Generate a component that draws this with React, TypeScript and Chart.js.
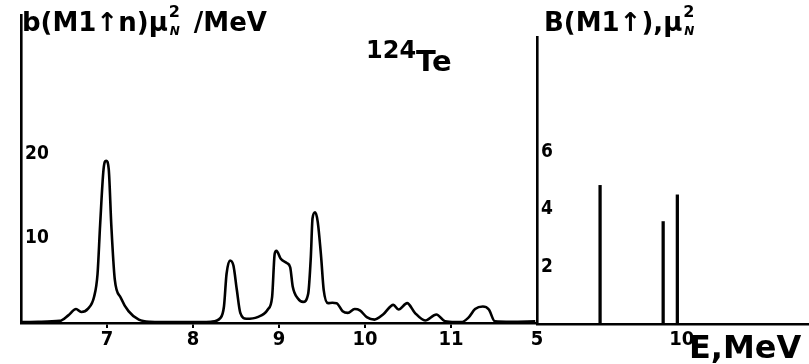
import React, { useEffect, useRef } from "react";
import { Chart, registerables } from "chart.js";

Chart.register(...registerables);

// Left panel: strength distribution b(M1↑n) vs E (MeV)
const leftE = [6.0, 6.2, 6.45, 6.55, 6.64, 6.7, 6.78, 6.85, 6.89, 6.92, 6.96, 6.99, 7.02, 7.05, 7.09, 7.16, 7.25, 7.37, 7.5, 7.8, 8.1, 8.21, 8.32, 8.36, 8.39, 8.43, 8.47, 8.51, 8.55, 8.62, 8.75, 8.87, 8.92, 8.95, 8.97, 9.02, 9.09, 9.13, 9.16, 9.22, 9.28, 9.34, 9.37, 9.39, 9.42, 9.45, 9.49, 9.52, 9.57, 9.62, 9.67, 9.74, 9.8, 9.88, 9.94, 10.02, 10.11, 10.21, 10.33, 10.39, 10.49, 10.58, 10.7, 10.83, 10.93, 11.05, 11.12, 11.2, 11.28, 11.37, 11.44, 11.51, 11.7, 11.98];
const leftB = [0.1, 0.15, 0.25, 0.9, 1.65, 1.3, 1.7, 3.1, 5.8, 11.6, 18.2, 19.2, 18.2, 11.6, 5.2, 3.0, 1.4, 0.4, 0.15, 0.1, 0.1, 0.15, 0.6, 1.95, 5.8, 7.4, 6.8, 3.9, 1.2, 0.5, 0.7, 1.6, 3.1, 8.2, 8.55, 7.6, 7.1, 6.6, 4.3, 2.9, 2.5, 3.5, 7.8, 12.4, 13.1, 12.0, 7.8, 3.9, 2.35, 2.4, 2.35, 1.4, 1.2, 1.65, 1.5, 0.7, 0.4, 1.0, 2.15, 1.6, 2.35, 1.2, 0.3, 1.0, 0.2, 0.1, 0.1, 0.6, 1.65, 1.95, 1.6, 0.2, 0.15, 0.2];
const leftXTicks = [7, 8, 9, 10, 11];
const leftYTicks = [10, 20];

// Right panel: discrete B(M1↑) lines
const rightE = [7.18, 9.36, 9.85];
const rightB = [4.83, 3.57, 4.5];
const rightXTicks = [5, 10];
const rightYTicks = [2, 4, 6];

const W = 809;
const H = 364;
const tickFont = { family: "'Liberation Sans Narrow', 'DejaVu Sans Condensed', 'Liberation Sans', sans-serif", size: 20, weight: "bold" as const };
const yTickFont = { family: "'Liberation Sans Narrow', 'DejaVu Sans Condensed', 'Liberation Sans', sans-serif", size: 19, weight: "bold" as const };
const titleFont = "'DejaVu Sans', 'Liberation Sans', sans-serif";

function StackMu() {
  return (
    <span style={{ display: "inline-block", position: "relative", width: 17, height: "1em", verticalAlign: "top" }}>
      <span style={{ position: "absolute", left: 1, top: -5, fontSize: 16, lineHeight: 1 }}>2</span>
      <span style={{ position: "absolute", left: 2, top: 16, fontSize: 12, lineHeight: 1, fontStyle: "italic" }}>N</span>
    </span>
  );
}

export default function App() {
  const leftRef = useRef<HTMLCanvasElement>(null);
  const rightRef = useRef<HTMLCanvasElement>(null);

  useEffect(() => {
    const left = new Chart(leftRef.current!, {
      type: "line",
      data: {
        datasets: [
          {
            data: leftE.map((x, i) => ({ x, y: leftB[i] })),
            borderColor: "#000",
            borderWidth: 2.6,
            pointRadius: 0,
            cubicInterpolationMode: "monotone",
            fill: false,
          },
        ],
      },
      options: {
        responsive: false,
        animation: false,
        layout: { padding: { top: 10, right: W - 537, left: 0, bottom: 0 } },
        plugins: { legend: { display: false }, tooltip: { enabled: false } },
        scales: {
          x: {
            type: "linear",
            min: 6,
            max: 12,
            afterFit: (s: any) => { s.height = 41; },
            afterBuildTicks: (s: any) => { s.ticks = leftXTicks.map((v) => ({ value: v })); },
            grid: { display: true, drawOnChartArea: false, drawTicks: true, tickLength: 5, color: "#000", lineWidth: 2 },
            border: { display: true, color: "#000", width: 2.6 },
            ticks: { font: tickFont, color: "#000", padding: 0, maxRotation: 0, autoSkip: false, callback: (v: any) => String(v) },
          },
          y: {
            type: "linear",
            min: 0,
            max: 36.4,
            afterFit: (s: any) => { s.width = 21; },
            afterBuildTicks: (s: any) => { s.ticks = leftYTicks.map((v) => ({ value: v })); },
            grid: { display: true, drawOnChartArea: false, drawTicks: false },
            border: { display: true, color: "#000", width: 2.6 },
            ticks: { mirror: true, padding: 4, font: yTickFont, color: "#000", callback: (v: any) => String(v) },
          },
        },
      },
    });

    const right = new Chart(rightRef.current!, {
      type: "bar",
      data: {
        datasets: [
          {
            data: rightE.map((x, i) => ({ x, y: rightB[i] })),
            backgroundColor: "#000",
            borderWidth: 0,
            barThickness: 2.6,
          },
        ],
      },
      options: {
        responsive: false,
        animation: false,
        layout: { padding: { top: 37, right: 0, left: 0, bottom: 0 } },
        plugins: { legend: { display: false }, tooltip: { enabled: false } },
        scales: {
          x: {
            type: "linear",
            min: 5,
            max: 14.4,
            offset: false,
            afterFit: (s: any) => { s.height = 40; },
            afterBuildTicks: (s: any) => { s.ticks = rightXTicks.map((v) => ({ value: v })); },
            grid: { display: true, drawOnChartArea: false, drawTicks: false, offset: false },
            border: { display: true, color: "#000", width: 2.6 },
            ticks: { font: tickFont, color: "#000", padding: 4, maxRotation: 0, autoSkip: false, callback: (v: any) => String(v) },
          },
          y: {
            type: "linear",
            min: 0,
            max: 10,
            afterFit: (s: any) => { s.width = 537; },
            afterBuildTicks: (s: any) => { s.ticks = rightYTicks.map((v) => ({ value: v })); },
            grid: { display: true, drawOnChartArea: false, drawTicks: false },
            border: { display: true, color: "#000", width: 2.6 },
            ticks: { mirror: true, padding: 4, font: yTickFont, color: "#000", callback: (v: any) => String(v) },
          },
        },
      },
    });

    return () => {
      left.destroy();
      right.destroy();
    };
  }, []);

  const abs = { position: "absolute" as const, left: 0, top: 0 };
  return (
    <div style={{ position: "fixed", left: 0, top: 0, width: W, height: H, background: "#fff", overflow: "hidden", color: "#000" }}>
      <canvas ref={leftRef} width={W} height={H} style={{ ...abs, width: W, height: H }} />
      <canvas ref={rightRef} width={W} height={H} style={{ ...abs, width: W, height: H }} />
      <div style={{ position: "absolute", left: 22, top: 9, fontFamily: titleFont, fontWeight: "bold", fontSize: 26, lineHeight: 1, whiteSpace: "nowrap" }}>
        b(M1↑n)μ<StackMu /> /MeV
      </div>
      <div style={{ position: "absolute", left: 366, top: 38, fontFamily: titleFont, fontWeight: "bold", whiteSpace: "nowrap", lineHeight: 1 }}>
        <span style={{ fontSize: 24, verticalAlign: "top" }}>124</span>
        <span style={{ fontSize: 29, position: "relative", top: 9 }}>Te</span>
      </div>
      <div style={{ position: "absolute", left: 544, top: 9, fontFamily: titleFont, fontWeight: "bold", fontSize: 26, lineHeight: 1, whiteSpace: "nowrap" }}>
        B(M1↑),μ<StackMu />
      </div>
      <div style={{ position: "absolute", left: 689, top: 331, fontFamily: titleFont, fontWeight: "bold", fontSize: 32, lineHeight: 1, whiteSpace: "nowrap" }}>
        E,MeV
      </div>
    </div>
  );
}
